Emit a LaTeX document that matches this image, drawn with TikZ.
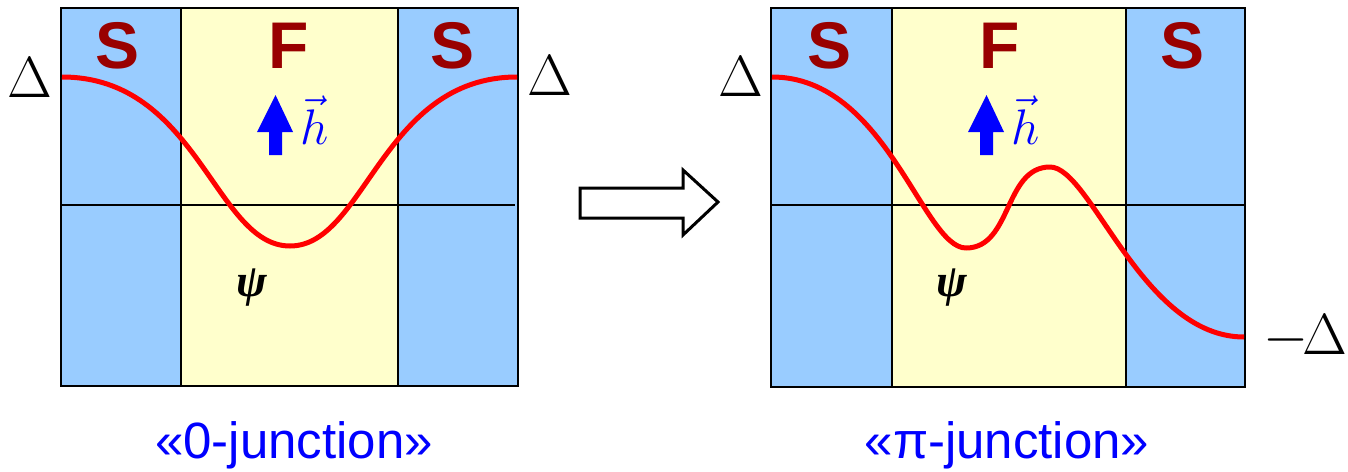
\documentclass[tikz,border=0pt]{standalone}
\usepackage{fix-cm}
\usepackage{fontspec}
\newfontfamily\capfont{Liberation Sans}
\newfontfamily\psifont{Liberation Serif}
\definecolor{sblue}{RGB}{153,204,255}
\definecolor{fyel}{RGB}{255,255,204}
\definecolor{dred}{RGB}{153,0,0}
\definecolor{pblue}{RGB}{0,0,255}
\tikzset{
  region/.style={draw=black,line width=1.5pt},
  axisline/.style={draw=black,line width=1.5pt},
  wave/.style={draw=red,line width=5pt,line join=round},
  letter/.style={inner sep=0pt,text=dred,font=\capfont\bfseries\fontsize{66}{66}\selectfont},
  dlt/.style={inner sep=0pt,font=\fontsize{58}{58}\selectfont},
  hvec/.style={inner sep=0pt,text=pblue,font=\fontsize{50}{50}\selectfont},
  psilab/.style={inner sep=0pt,font=\psifont\bfseries\itshape\fontsize{46}{46}\selectfont},
  caption/.style={inner sep=0pt,anchor=base,text=pblue,font=\capfont\fontsize{51}{51}\selectfont},
  fieldarrow/.style={fill=pblue,draw=none},
}
\begin{document}
\begin{tikzpicture}[x=1pt,y=-1pt]
\useasboundingbox (0,0) rectangle (1348,471);
% ---------- left panel ----------
\fill[sblue] (61,8) rectangle (181,386);
\fill[fyel] (181,8) rectangle (398,386);
\fill[sblue] (398,8) rectangle (518,386);
\draw[region] (61,8) rectangle (518,386);
\draw[region] (181,8) -- (181,386);
\draw[region] (398,8) -- (398,386);
\draw[axisline] (61,205) -- (515,205);
\draw[wave] (62,77) .. controls (198,77) and (215,246) .. (290,246)
                    .. controls (365,246) and (382,77) .. (517,77);
\node[letter] (s1) at (118,46) {S};
\node[letter] (f1) at (289,46) {F};
\node[letter] (s2) at (453,46) {S};
\node[dlt] (d1) at (30,78) {$\Delta$};
\node[dlt] (d2) at (550,76) {$\Delta$};
\fill[fieldarrow] (269,155) -- (282,155) -- (282,132) -- (293,132) -- (275.5,95) -- (257,132) -- (269,132) -- cycle;
\node[hvec,anchor=south west] (h1) at (300,145) {$\vec{h}$};
\node[psilab,anchor=base] (p1) at (252,296) {ψ};
\node[caption] (c1) at (294,458) {«0-junction»};
% ---------- transition arrow ----------
\draw[line width=3pt,line join=miter] (580,188) -- (683,188) -- (683,170) -- (718,202) -- (683,235) -- (683,218) -- (580,218) -- cycle;
% ---------- right panel ----------
\fill[sblue] (771,8) rectangle (892,387);
\fill[fyel] (892,8) rectangle (1126,387);
\fill[sblue] (1126,8) rectangle (1245,387);
\draw[region] (771,8) rectangle (1245,387);
\draw[region] (892,8) -- (892,387);
\draw[region] (1126,8) -- (1126,387);
\draw[axisline] (771,205) -- (1245,205);
\draw[wave] (772,77) .. controls (886,77) and (923,248) .. (966,248)
                     .. controls (1012,248) and (1004,167) .. (1050,167)
                     .. controls (1091,167) and (1142,337) .. (1244,337);
\node[letter] (s3) at (829,46) {S};
\node[letter] (f2) at (1000,46) {F};
\node[letter] (s4) at (1182,46) {S};
\node[dlt] (d3) at (741,77) {$\Delta$};
\node[dlt,anchor=east] (d4) at (1347,337) {$-\mkern-2mu\Delta$};
\fill[fieldarrow] (980,155) -- (993,155) -- (993,132) -- (1004,132) -- (986.5,95) -- (968,132) -- (980,132) -- cycle;
\node[hvec,anchor=south west] (h2) at (1011,145) {$\vec{h}$};
\node[psilab,anchor=base] (p2) at (952,296) {ψ};
\node[caption] (c2) at (1007,458) {«π-junction»};
\end{tikzpicture}
\end{document}
